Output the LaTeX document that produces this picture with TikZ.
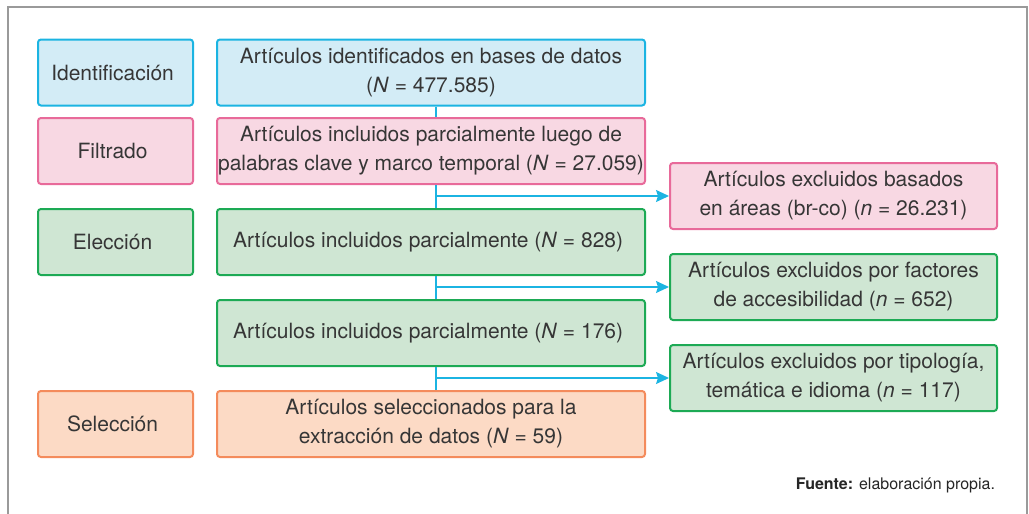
\documentclass[tikz,border=0pt]{standalone}
\usepackage{fontspec}
\setmainfont{TeX Gyre Heros}
\usetikzlibrary{arrows.meta}

\definecolor{cyanline}{HTML}{1BB4E2}
\definecolor{cyanfill}{HTML}{D3ECF6}
\definecolor{pinkline}{HTML}{E86A9A}
\definecolor{pinkfill}{HTML}{F8D8E3}
\definecolor{greenline}{HTML}{1DAA55}
\definecolor{greenfill}{HTML}{CFE6D3}
\definecolor{orangeline}{HTML}{F48B5C}
\definecolor{orangefill}{HTML}{FCDAC5}
\definecolor{textgray}{HTML}{363636}
\definecolor{framegray}{HTML}{9A9A9A}

\begin{document}
\begin{tikzpicture}[
    x=1pt, y=-1pt,
    font=\fontsize{21}{29}\selectfont,
    text=textgray,
    every node/.style = {
      shape=rectangle,
      rounded corners=3pt,
      line width=2pt,
      minimum height=66pt,
      inner sep=0pt,
      align=center,
      draw
    },
    phase/.style = {minimum width=155pt},
    stage/.style = {minimum width=428pt},
    excluded/.style = {minimum width=327pt},
    ident/.style = {draw=cyanline, fill=cyanfill},
    filt/.style = {draw=pinkline, fill=pinkfill},
    elec/.style = {draw=greenline, fill=greenfill},
    selec/.style = {draw=orangeline, fill=orangefill},
    flow/.style = {draw=cyanline, line width=1.5pt},
    exclarrow/.style = {flow, -{Stealth[length=13pt, width=12pt, inset=2pt]}}
    ]

    \path[use as bounding box] (0,0) rectangle (1029,514);
    \draw[framegray, line width=2pt] (8,514) |- (1027,7) -- (1027,514);

    % phases
    \node[phase, ident] (identif) at (115.5,72.5) { Identificación };
    \node[phase, filt] (filtr) at (115.5,151) { Filtrado };
    \node[phase, elec] (elecc) at (115.5,242) { Elección };
    \node[phase, selec] (selecc) at (115.5,424) { Selección };

    % main flow
    \node[stage, ident] (found) at (431,72.5) { Artículos identificados en bases de datos \\ (\textit{N} = 477.585) };
    \node[stage, filt] (keywords) at (431,151) { Artículos incluidos parcialmente luego de \\ palabras clave y marco temporal (\textit{N} = 27.059) };
    \node[stage, elec] (partial1) at (431,242) { Artículos incluidos parcialmente (\textit{N} = 828) };
    \node[stage, elec] (partial2) at (431,333) { Artículos incluidos parcialmente (\textit{N} = 176) };
    \node[stage, selec] (final) at (431,424) { Artículos seleccionados para la \\ extracción de datos (\textit{N} = 59) };

    % exclusions
    \node[excluded, filt] (byarea) at (833.5,196) { Artículos excluidos basados \\ en áreas (br-co) (\textit{n} = 26.231) };
    \node[excluded, elec] (byaccess) at (833.5,287) { Artículos excluidos por factores \\ de accesibilidad (\textit{n} = 652) };
    \node[excluded, elec] (bytype) at (833.5,378) { Artículos excluidos por tipología, \\ temática e idioma (\textit{n} = 117) };

    \draw[flow] ([xshift=5pt]found.south) -- ([xshift=5pt]keywords.north);
    \draw[flow] ([xshift=5pt]keywords.south) -- ([xshift=5pt]partial1.north);
    \draw[flow] ([xshift=5pt]partial1.south) -- ([xshift=5pt]partial2.north);
    \draw[flow] ([xshift=5pt]partial2.south) -- ([xshift=5pt]final.north);
    \draw[exclarrow] ([xshift=5pt]keywords.south) |- (byarea);
    \draw[exclarrow] ([xshift=5pt]partial1.south) |- (byaccess);
    \draw[exclarrow] ([xshift=5pt]partial2.south) |- (bytype);

    \node[draw=none, minimum height=0pt, anchor=east, text=black!85, font=\fontsize{16}{19}\selectfont] (source) at (996,485) {\textbf{Fuente:} elaboración propia.};

\end{tikzpicture}
\end{document}
